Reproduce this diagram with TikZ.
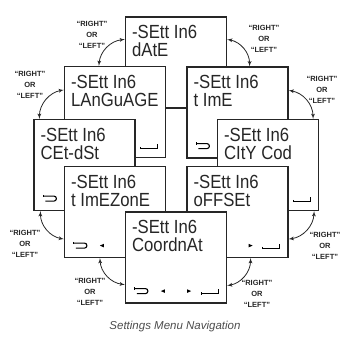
\documentclass[tikz,border=0pt]{standalone}
\usepackage{fontspec}
\setmainfont{Liberation Sans}
\newfontfamily\lcdfont[FakeStretch=0.88]{Liberation Sans}
\usepackage{tikz}
\usetikzlibrary{arrows.meta}
\usetikzlibrary{arrows}

\begin{document}
\begin{tikzpicture}[x=1pt,y=1pt]
  \tikzset{screen/.style = {draw=black!85,fill=white,line width=1.2pt,minimum width=101pt,minimum height=91pt,inner sep=0pt}}
  \tikzset{lcd/.style = {font=\lcdfont\fontsize{19}{18}\selectfont,align=left,inner sep=0pt,anchor=north west,text=black!85}}
  \tikzset{hint/.style = {font=\bfseries\fontsize{7.5}{11}\selectfont,align=center,text=black!85,inner sep=0pt}}
  \tikzset{edge/.style = {latex'-latex',line width=0.8pt,draw=black!85}}
  \tikzset{retsym/.pic = {\draw[line width=1.1pt,rounded corners=2.4pt] (0,0) -- (13,0) -- (13,-5) -- (2,-5);
                          \draw[line width=1pt] (0,1.2) -- (0,-1.2);}}
  \tikzset{entsym/.pic = {\draw[line width=1.1pt] (0,0) -- (17,0) -- (17,4.5);
                          \draw[line width=1pt] (0,1.2) -- (0,-1.2);}}
  \tikzset{lefttri/.pic = {\fill (0,0) -- (4,1.8) -- (4,-1.8) -- cycle;}}
  \tikzset{righttri/.pic = {\fill (4,0) -- (0,1.8) -- (0,-1.8) -- cycle;}}

  \useasboundingbox (0,0) rectangle (341,338);

  % screens, back to front
  \foreach \name/\x/\y/\txt in {date/176/275.5/dAtE, lang/115/226/LAnGuAGE, time/237.5/225.5/t ImE,
      cetdst/84.5/173/CEt-dSt, city/268/173/CItY Cod, tzone/115/126/t ImEZonE,
      offset/237.5/126/oFFSEt, coord/176/80.5/CoordnAt}
  {
    \node[screen] (\name) at (\x,\y) {};
    \node[lcd] (\name-txt) at ([shift={(7,-9)}]\name.north west) {-SEtt In6\\\txt};
  }

  % keys at the bottom of each screen
  \pic at ([shift={(-26,10)}]lang.south east) {entsym};
  \pic at ([shift={(10,15)}]time.south west) {retsym};
  \pic at ([shift={(10,15)}]cetdst.south west) {retsym};
  \pic at ([shift={(-26,10)}]city.south east) {entsym};
  \pic at ([shift={(10,15)}]tzone.south west) {retsym};
  \pic at ([shift={(36,12.5)}]tzone.south west) {lefttri};
  \pic at ([shift={(-40,12.5)}]offset.south east) {righttri};
  \pic at ([shift={(-26,10)}]offset.south east) {entsym};
  \pic at ([shift={(10,15)}]coord.south west) {retsym};
  \pic at ([shift={(36,12.5)}]coord.south west) {lefttri};
  \pic at ([shift={(-40,12.5)}]coord.south east) {righttri};
  \pic at ([shift={(-26,10)}]coord.south east) {entsym};

  % arrow ends
  \coordinate (a1) at ([yshift=-23]date.north west);
  \coordinate (b1) at ([xshift=35]lang.north west);
  \coordinate (a2) at ([yshift=-23]date.north east);
  \coordinate (b2) at ([xshift=-39]time.north east);
  \coordinate (a3) at ([yshift=-24]lang.north west);
  \coordinate (b3) at ([xshift=6]cetdst.north west);
  \coordinate (a4) at ([yshift=-24]time.north east);
  \coordinate (b4) at ([xshift=-6]city.north east);
  \coordinate (a5) at ([xshift=7]cetdst.south west);
  \coordinate (b5) at ([yshift=19]tzone.south west);
  \coordinate (a6) at ([xshift=36]tzone.south west);
  \coordinate (b6) at ([yshift=19]coord.south west);
  \coordinate (a7) at ([xshift=-5]city.south east);
  \coordinate (b7) at ([yshift=19]offset.south east);
  \coordinate (a8) at ([xshift=-38]offset.south east);
  \coordinate (b8) at ([yshift=18]coord.south east);

  \foreach \from/\to/\way in {a1/b1/right, a2/b2/left, a3/b3/right, a4/b4/left,
      a5/b5/right, a6/b6/right, a7/b7/left, a8/b8/left}
    \draw[edge] (\from) to[bend \way=40] (\to);

  \foreach \x/\y [count=\i] in {92/303, 264/299, 30/253, 322/248, 25/94, 90/46, 325/92, 257/44}
    \node[hint] (hint\i) at (\x,\y) {``RIGHT''\\OR\\``LEFT''};

  \node[font=\itshape\fontsize{11.5}{12}\selectfont,text=black!70] (caption) at (175,11) {Settings Menu Navigation};
\end{tikzpicture}
\end{document}
